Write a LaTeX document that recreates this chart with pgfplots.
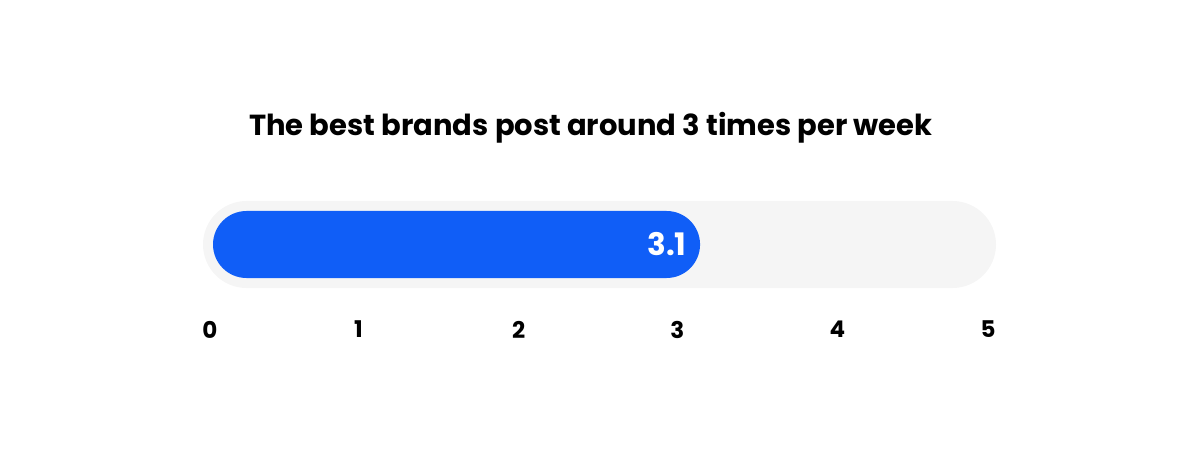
\documentclass[border=0pt]{standalone}
\usepackage{fontspec}
\setmainfont{Poppins}
\usepackage{pgfplots}
\pgfplotsset{compat=1.18}
\definecolor{barblue}{RGB}{16,94,247}
\definecolor{trackgrey}{RGB}{245,245,245}
\begin{document}
\begin{tikzpicture}
\begin{axis}[
  scale only axis,
  width=600pt, height=62pt,
  xmin=-1.28, xmax=6.2863,
  ymin=140, ymax=264,
  clip=false,
  axis line style={draw=none},
  tick style={draw=none},
  ytick=\empty,
  xtick={0.044,0.98,1.99,2.99,4.0,4.95},
  xticklabels={0,1,2,3,4,5},
  xticklabel style={font=\bfseries\fontsize{11.5}{13}\selectfont, text=black},
  /pgf/number format/assume math mode=true,
]
% track (scale 0 to 5)
\addplot[fill=trackgrey, draw=none, rounded corners=21.75pt]
  coordinates {(2.5,253) (5,253) (5,166) (0,166) (0,253)} -- cycle;
% value bar
\addplot[fill=barblue, draw=none, rounded corners=16.75pt]
  coordinates {(1.5,243) (3.134,243) (3.134,176) (0.063,176) (0.063,243)} -- cycle;
\node[anchor=east, text=white, font=\bfseries\fontsize{15.5}{18}\selectfont] at (axis cs:3.093,209.5) {3.1};
\node[font=\bfseries\fontsize{14.5}{17}\selectfont] at (axis cs:2.446,326) {The best brands post around 3 times per week};
\path (axis cs:-1.28,0) (axis cs:6.2863,454);
\end{axis}
\end{tikzpicture}
\end{document}
